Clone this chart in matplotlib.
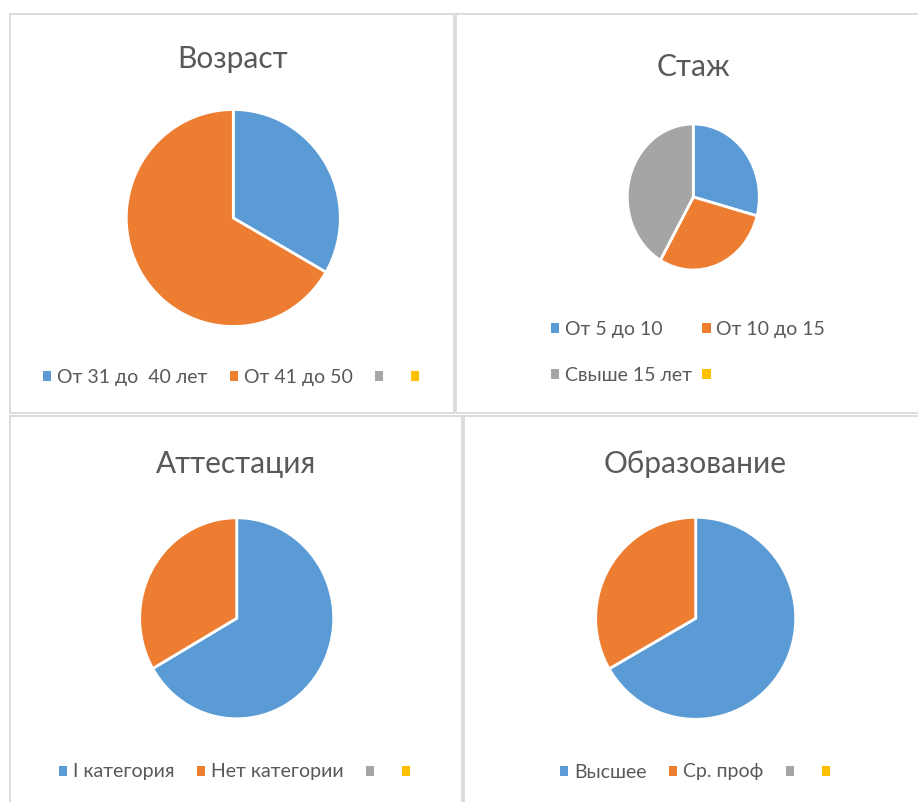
import matplotlib
matplotlib.use("Agg")
import matplotlib.pyplot as plt
from matplotlib.patches import Patch, Rectangle

plt.rcParams['font.family'] = ['Lato', 'DejaVu Sans']

# ---- data ----
age_labels = ["От 31 до  40 лет", "От 41 до 50", "", ""]
age_values = [1, 2]
exp_labels = ["От 5 до 10", "От 10 до 15", "Свыше 15 лет", ""]
exp_values = [7, 7, 10]
att_labels = ["I категория", "Нет категории", "", ""]
att_values = [2, 1]
edu_labels = ["Высшее", "Ср. проф", "", ""]
edu_values = [2, 1]
titles = ["Возраст", "Стаж", "Аттестация", "Образование"]
colors = ["#5B9BD5", "#ED7D31", "#A5A5A5", "#FFC000"]

W, H = 918, 802
fig = plt.figure(figsize=(W / 100, H / 100), dpi=100)
TXT = "#595959"


def fx(x):
    return x / W


def fy(y):
    return 1 - y / H


# panel borders
for (x0, y0, x1, y1) in [(10, 14, 454, 413), (456, 14, 930, 413),
                         (10, 416, 462, 815), (464, 416, 930, 815)]:
    fig.add_artist(Rectangle((fx(x0), fy(y1)), fx(x1) - fx(x0), fy(y0) - fy(y1),
                             transform=fig.transFigure, facecolor="none",
                             edgecolor="#D9D9D9", linewidth=1.3))


def draw_pie(values, cx, cy, rx, ry):
    ax = fig.add_axes([fx(cx - rx), fy(cy + ry), 2 * rx / W, 2 * ry / H])
    wedges, _ = ax.pie(values, colors=colors[:len(values)], startangle=90,
                       counterclock=False, radius=1,
                       wedgeprops=dict(edgecolor="white", linewidth=2.0))
    for w in wedges:
        w.set_clip_on(False)
    ax.set_aspect("auto")
    ax.set_xlim(-1, 1)
    ax.set_ylim(-1, 1)
    ax.axis("off")
    return ax


draw_pie(age_values, 233.3, 218.0, 107, 108.5)
draw_pie(exp_values, 693.3, 197.0, 66, 73)
draw_pie(att_values, 236.7, 618.3, 97, 100.5)
draw_pie(edu_values, 695.7, 618.3, 100, 101)

# titles
for t, x, y in [(titles[0], 232.5, 68.3), (titles[1], 693, 75.5),
                (titles[2], 236, 472.7), (titles[3], 695.5, 472.7)]:
    fig.text(fx(x), fy(y), t, ha="center", va="baseline", fontsize=21.5,
             color=TXT)

FS = 14


def legend(labels, order, ncol, cx, cy, colsp, lsp=0.5):
    handles = [Patch(facecolor=colors[i], edgecolor="none") for i in order]
    labs = [labels[i] for i in order]
    leg = fig.legend(handles, labs, loc="center",
                     bbox_to_anchor=(fx(cx), fy(cy)),
                     bbox_transform=fig.transFigure, ncol=ncol, frameon=False,
                     fontsize=FS, handlelength=0.42, handleheight=0.42,
                     handletextpad=0.3, columnspacing=colsp, borderpad=0,
                     labelspacing=lsp, labelcolor=TXT)
    return leg


legend(age_labels, [0, 1, 2, 3], 4, 234, 377, 1.15)
legend(exp_labels, [0, 2, 1, 3], 2, 688, 352.5, 0.55, lsp=1.5)
legend(att_labels, [0, 1, 2, 3], 4, 237.5, 772, 1.15)
legend(edu_labels, [0, 1, 2, 3], 4, 698, 772, 1.15)

fig.savefig("out.png", dpi=100, facecolor="white")
